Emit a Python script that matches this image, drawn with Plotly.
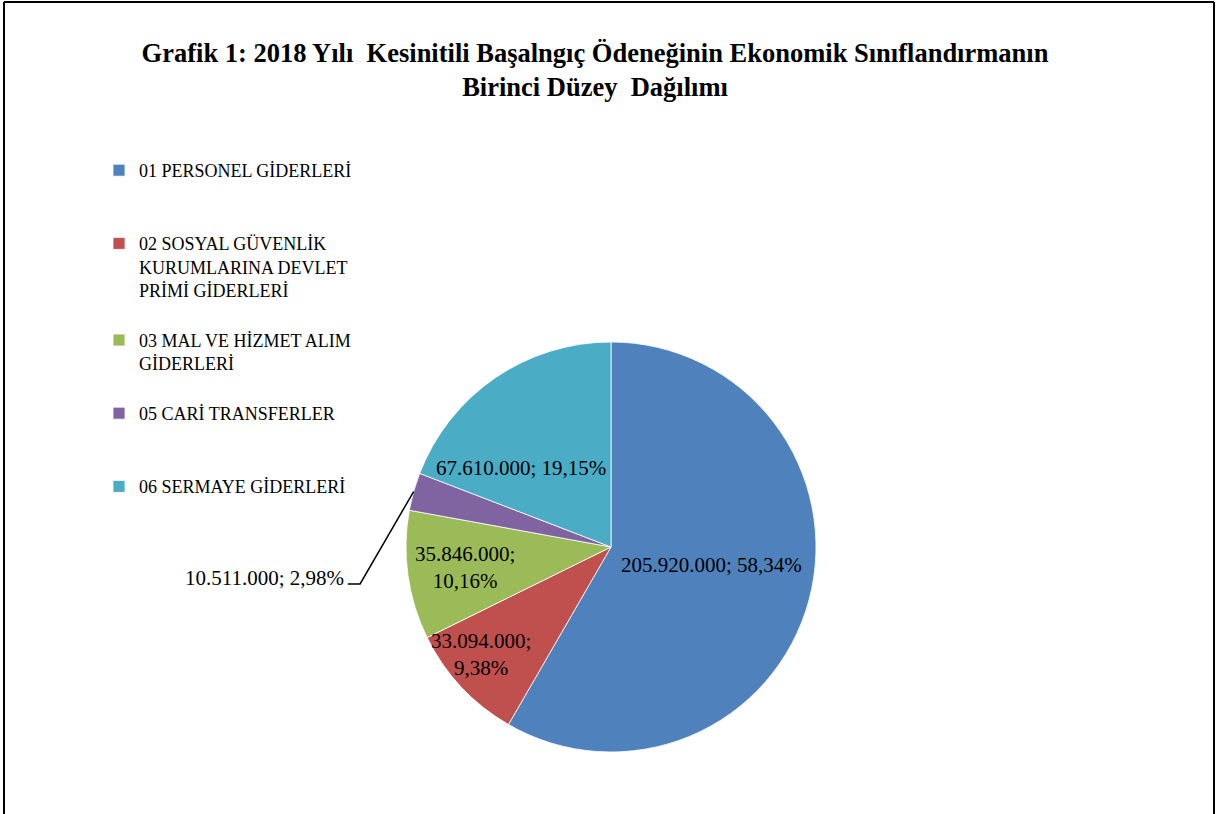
import math
import plotly.graph_objects as go

# ---- data ----
categories = [
    "01 PERSONEL GİDERLERİ",
    "02 SOSYAL GÜVENLİK KURUMLARINA DEVLET PRİMİ GİDERLERİ",
    "03 MAL VE HİZMET ALIM GİDERLERİ",
    "05 CARİ TRANSFERLER",
    "06 SERMAYE GİDERLERİ",
]
values = [205920000, 33094000, 35846000, 10511000, 67610000]
colors = ["#4F81BD", "#C0504D", "#9BBB59", "#8064A2", "#4BACC6"]

# legend wrapping (as in the original legend box)
legend_lines = [
    ["01 PERSONEL GİDERLERİ"],
    ["02 SOSYAL GÜVENLİK", "KURUMLARINA DEVLET", "PRİMİ GİDERLERİ"],
    ["03 MAL VE HİZMET ALIM", "GİDERLERİ"],
    ["05 CARİ TRANSFERLER"],
    ["06 SERMAYE GİDERLERİ"],
]
legend_pad = [3, 4, 3, 3, 1]  # line slots per entry (spacing)

W, H = 1219, 814
cx, cy, R = 611, 547, 205  # pie centre / radius in px

total = sum(values)


def fmt_int(v):
    return f"{v:,}".replace(",", ".")


def fmt_pct(v):
    return f"{100 * v / total:.2f}".replace(".", ",") + "%"


labels = []
for lines, n in zip(legend_lines, legend_pad):
    ll = lines + ["\u00a0"] * (n - len(lines))
    labels.append("<br>".join(ll))

fig = go.Figure()
fig.add_trace(go.Pie(
    labels=labels,
    values=values,
    sort=False,
    direction="clockwise",
    rotation=0,
    marker=dict(colors=colors, line=dict(color="white", width=0.8)),
    textinfo="none",
    hoverinfo="label+value+percent",
    domain=dict(x=[(cx - R) / W, (cx + R) / W], y=[1 - (cy + R) / H, 1 - (cy - R) / H]),
))


def px2paper(x, y):
    return x / W, 1 - y / H


# label layout: (radius fraction, angle nudge deg, line break?)
label_style = [
    (0.496, -4.8, False),
    (0.824, 3.4, True),
    (0.72, 0.0, True),
    None,
    (0.585, -14.2, False),
]
LABEL_FONT = dict(family="Liberation Serif", size=21, color="black")

annotations = []
shapes = []
cum = 0
for i, v in enumerate(values):
    a0 = cum / total * 360
    cum += v
    a1 = cum / total * 360
    mid = (a0 + a1) / 2
    sep = ";<br>" if (label_style[i] and label_style[i][2]) else "; "
    text = fmt_int(v) + sep + fmt_pct(v)
    if label_style[i] is None:
        # outside label with leader line
        ex = cx + R * math.sin(math.radians(mid))
        ey = cy - R * math.cos(math.radians(mid))
        elx, ely = cx - 1.224 * R, cy + 0.18 * R
        endx = elx - 0.06 * R
        x0, y0 = px2paper(ex, ey)
        x1, y1 = px2paper(elx, ely)
        x2, y2 = px2paper(endx, ely)
        shapes.append(dict(type="path", xref="paper", yref="paper",
                           path=f"M {x0} {y0} L {x1} {y1} L {x2} {y2}",
                           line=dict(color="black", width=1.5)))
        tx, ty = px2paper(endx - 2, ely - 6)
        annotations.append(dict(x=tx, y=ty, xref="paper", yref="paper", text=text,
                                showarrow=False, xanchor="right", yanchor="middle",
                                font=LABEL_FONT))
    else:
        f, dth, _ = label_style[i]
        th = math.radians(mid + dth)
        lx = cx + f * R * math.sin(th)
        ly = cy - f * R * math.cos(th)
        tx, ty = px2paper(lx, ly)
        annotations.append(dict(x=tx, y=ty, xref="paper", yref="paper", text=text,
                                showarrow=False, xanchor="center", yanchor="middle",
                                align="center", font=LABEL_FONT))

# frame lines
for (xa, ya, xb, yb) in [(4, 2, 1214, 2), (4, 2, 4, 830), (1214, 2, 1214, 830)]:
    p0 = px2paper(xa, ya)
    p1 = px2paper(xb, yb)
    shapes.append(dict(type="line", xref="paper", yref="paper",
                       x0=p0[0], y0=p0[1], x1=p1[0], y1=p1[1],
                       line=dict(color="black", width=2)))

title_text = ("<b>Grafik 1: 2018 Yılı\u00a0 Kesinitili Başalngıç Ödeneğinin Ekonomik Sınıflandırmanın"
              "<br>Birinci Düzey\u00a0 Dağılımı</b>")

fig.update_layout(
    width=W, height=H,
    margin=dict(l=0, r=0, t=0, b=0),
    paper_bgcolor="white",
    plot_bgcolor="white",
    title=dict(text=title_text, x=595 / W, xanchor="center", y=1 - 62 / H, yanchor="top",
               font=dict(family="Liberation Serif", size=26.5, color="black")),
    legend=dict(x=99 / W, xanchor="left", y=1 - 152 / H, yanchor="top",
                valign="top", traceorder="normal",
                font=dict(family="Liberation Serif", size=18, color="black"),
                bgcolor="rgba(0,0,0,0)"),
    annotations=annotations,
    shapes=shapes,
    showlegend=True,
)

fig.write_html("out.html", config={"displayModeBar": False},
               post_script="document.body.style.margin='0';document.body.style.overflow='hidden';")
